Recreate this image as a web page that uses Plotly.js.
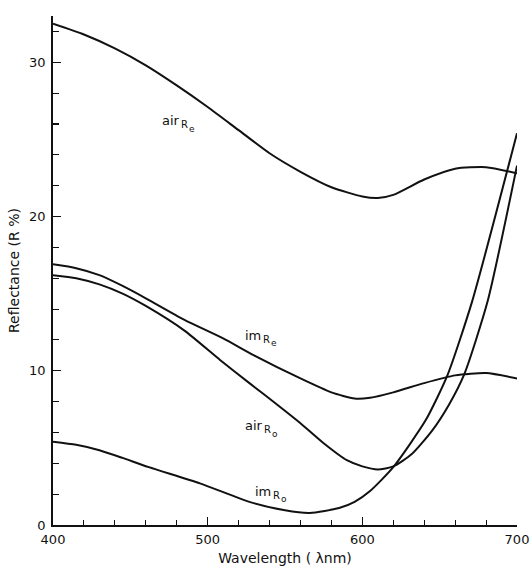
<!DOCTYPE html>
<html>
<head>
<meta charset="utf-8">
<script src="https://cdn.plot.ly/plotly-3.0.1.min.js"></script>
<style>html,body{margin:0;padding:0;background:#fff;}#chart{width:531px;height:567px;}</style>
</head>
<body>
<div id="chart"></div>
<script>
// Wavelength (nm) and reflectance (%)
const airRe_x = [400, 420, 440, 460, 480, 500, 520, 540, 560, 580, 600, 610, 620, 640, 660, 680, 700];
const airRe_y = [32.5, 31.8, 30.9, 29.8, 28.5, 27.1, 25.6, 24.1, 22.9, 21.9, 21.3, 21.2, 21.4, 22.4, 23.1, 23.2, 22.8];

const imRe_x = [400, 415, 430, 445, 460, 485, 510, 530, 560, 580, 595, 605, 620, 640, 660, 680, 700];
const imRe_y = [16.9, 16.65, 16.2, 15.5, 14.7, 13.3, 12.1, 11.0, 9.5, 8.6, 8.2, 8.25, 8.6, 9.2, 9.7, 9.85, 9.5];

const airRo_x = [400, 415, 430, 445, 460, 485, 508, 527, 545, 560, 575, 590, 600, 610, 620, 632, 645, 656, 666, 681, 700];
const airRo_y = [16.2, 16.0, 15.6, 15.0, 14.2, 12.6, 10.7, 9.2, 7.8, 6.6, 5.3, 4.2, 3.8, 3.6, 3.8, 4.6, 6.1, 7.8, 9.8, 14.5, 23.3];

const imRo_x = [400, 415, 430, 445, 462, 495, 527, 550, 566, 585, 595, 605, 620, 641, 655, 671, 700];
const imRo_y = [5.4, 5.2, 4.85, 4.35, 3.75, 2.7, 1.5, 0.95, 0.78, 1.1, 1.5, 2.2, 3.75, 6.8, 9.7, 14.5, 25.4];

// Curve labels: main word, first subscript, second subscript
const labelWord = ["air", "im", "air", "im"];
const labelSub1 = ["R", "R", "R", "R"];
const labelSub2 = ["e", "e", "o", "o"];
const labelX = [468.9, 522.6, 522.6, 529];
const labelY = [26.2, 12.3, 6.45, 2.2];

const xTickVals = [400, 500, 600, 700];
const yTickVals = [0, 10, 20, 30];

const lineStyle = {color: '#111', width: 2, shape: 'spline', smoothing: 0.6};
const series = [[airRe_x, airRe_y], [imRe_x, imRe_y], [airRo_x, airRo_y], [imRo_x, imRo_y]];
const traces = series.map(s => ({x: s[0], y: s[1], mode: 'lines', line: lineStyle, hoverinfo: 'skip', showlegend: false}));

const FONT = 'DejaVu Sans, sans-serif';
const annotations = [];
labelWord.forEach((w, i) => {
  const wordW = w === 'air' ? 19 : 18;
  annotations.push({x: labelX[i], y: labelY[i], xref: 'x', yref: 'y', text: w, showarrow: false,
    xanchor: 'left', yanchor: 'middle', font: {family: FONT, size: 13, color: '#111'}});
  annotations.push({x: labelX[i], y: labelY[i], xref: 'x', yref: 'y', text: labelSub1[i], showarrow: false,
    xanchor: 'left', yanchor: 'middle', xshift: wordW, yshift: -4, font: {family: FONT, size: 10, color: '#111'}});
  annotations.push({x: labelX[i], y: labelY[i], xref: 'x', yref: 'y', text: labelSub2[i], showarrow: false,
    xanchor: 'left', yanchor: 'middle', xshift: wordW + 8, yshift: -8, font: {family: FONT, size: 9, color: '#111'}});
});

const layout = {
  width: 531, height: 567,
  margin: {l: 53, r: 14, t: 16, b: 42},
  paper_bgcolor: '#fff', plot_bgcolor: '#fff',
  font: {family: FONT, size: 13, color: '#111'},
  xaxis: {
    range: [400, 700], tickvals: xTickVals, ticktext: xTickVals.map(String),
    ticks: 'inside', ticklen: 8, tickwidth: 1.3, tickcolor: '#111',
    showline: true, linecolor: '#111', linewidth: 1.8, showgrid: false, zeroline: false,
    minor: {dtick: 20, tick0: 400, ticks: 'inside', ticklen: 5, tickwidth: 1.1, tickcolor: '#111', showgrid: false},
    tickfont: {size: 13}, ticklabelstandoff: 2,
    title: {text: 'Wavelength ( \u03bbnm)', font: {size: 14}, standoff: 7}
  },
  yaxis: {
    range: [0, 33], tickvals: yTickVals, ticktext: yTickVals.map(String),
    ticks: 'inside', ticklen: 8, tickwidth: 1.3, tickcolor: '#111',
    showline: true, linecolor: '#111', linewidth: 1.8, showgrid: false, zeroline: false,
    minor: {dtick: 2, tick0: 0, ticks: 'inside', ticklen: 6, tickwidth: 1.1, tickcolor: '#111', showgrid: false},
    tickfont: {size: 13}, ticklabelstandoff: 3,
    title: {text: 'Reflectance (R %)', font: {size: 14}, standoff: 6}
  },
  annotations: annotations
};

Plotly.newPlot('chart', traces, layout, {displayModeBar: false, staticPlot: true});
</script>
</body>
</html>
